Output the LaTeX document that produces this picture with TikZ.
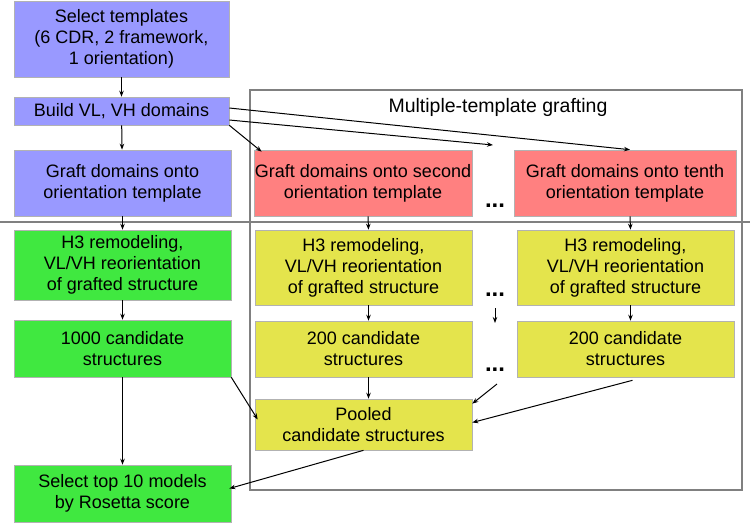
\documentclass[tikz,border=0pt]{standalone}
\usepackage{fontspec}
\setmainfont{Liberation Sans}
\usepackage{tikz}
\usetikzlibrary{arrows.meta}
\tikzset{>={Stealth[length=6pt,width=4.5pt]}}
\usepackage{xcolor}

\definecolor{boxblue}{RGB}{153,153,255}
\definecolor{boxred}{RGB}{255,128,128}
\definecolor{boxgreen}{RGB}{64,232,64}
\definecolor{boxyellow}{RGB}{228,228,76}
\definecolor{framegray}{RGB}{128,128,128}

\tikzset{
    blk/.style={draw=black!30, line width=0.6pt, align=center, inner sep=0pt,
        font=\fontsize{18}{21}\selectfont},
    bluebox/.style={blk, fill=boxblue},
    redbox/.style={blk, fill=boxred},
    greenbox/.style={blk, fill=boxgreen},
    yellowbox/.style={blk, fill=boxyellow},
    dotsnode/.style={inner sep=0pt, font=\fontsize{24}{24}\selectfont\bfseries},
    arr/.style={->, line width=1pt},
}

\begin{document}
\begin{tikzpicture}[x=1pt,y=-1pt]
    \useasboundingbox (0,0) rectangle (750,523);

    % frame and divider
    \draw[framegray, line width=2.4pt] (250,90) rectangle (742,490);
    \draw[framegray, line width=2pt] (0,222) -- (750,222);
    \node[font=\fontsize{19.5}{22}\selectfont] (title) at (498,107) {Multiple-template grafting};

    % left column
    \node[bluebox, minimum width=215, minimum height=76] (sel) at (121.5,39) {Select templates\\(6 CDR, 2 framework,\\1 orientation)};
    \node[bluebox, minimum width=215, minimum height=28] (build) at (121.5,111) {Build VL, VH domains};
    \node[bluebox, minimum width=217, minimum height=66] (graft) at (122.5,183) {Graft domains onto\\orientation template};
    \node[greenbox, minimum width=217, minimum height=70] (hthree) at (122.5,265) {H3 remodeling,\\VL/VH reorientation\\of grafted structure};
    \node[greenbox, minimum width=217, minimum height=57] (cand) at (122.5,348.5) {1000 candidate\\structures};
    \node[greenbox, minimum width=217, minimum height=57] (top) at (122.5,493.5) {Select top 10 models\\by Rosetta score};

    % second template
    \node[redbox, minimum width=218, minimum height=66] (graftA) at (363,183) {Graft domains onto second\\orientation template};
    \node[yellowbox, minimum width=217, minimum height=75] (hthreeA) at (363.5,267.5) {H3 remodeling,\\VL/VH reorientation\\of grafted structure};
    \node[yellowbox, minimum width=217, minimum height=56] (candA) at (363.5,349) {200 candidate\\structures};
    \node[yellowbox, minimum width=217, minimum height=51] (pool) at (363.5,424.5) {Pooled\\candidate structures};

    % tenth template
    \node[redbox, minimum width=222, minimum height=66] (graftB) at (625,183) {Graft domains onto tenth\\orientation template};
    \node[yellowbox, minimum width=217, minimum height=75] (hthreeB) at (625.5,267.5) {H3 remodeling,\\VL/VH reorientation\\of grafted structure};
    \node[yellowbox, minimum width=217, minimum height=56] (candB) at (625.5,349) {200 candidate\\structures};

    % dots
    \node[dotsnode] (dotsA) at (495,206) {...};
    \node[dotsnode] (dotsB) at (495,295) {...};
    \node[dotsnode] (dotsC) at (495,370) {...};
    \coordinate (dtop) at (493,145);
    \coordinate (dmidA) at (495,308);
    \coordinate (dmidB) at (495,323);
    \coordinate (dlow) at (497,384);

    % arrows
    \draw[arr] (sel) -- (build);
    \draw[arr] (build) -- (graft);
    \draw[arr] (graft) -- (hthree);
    \draw[arr] (hthree) -- (cand);
    \draw[arr] (cand) -- (top);
    \draw[arr] ([yshift=3pt]build.east) -- ([xshift=5pt]graftB.north);
    \draw[arr] ([yshift=-9pt]build.east) -- (dtop);
    \draw[arr] (build.south east) -- ([xshift=8pt,yshift=-2pt]graftA.north west);
    \draw[arr] ([xshift=5pt]graftA.south) -- ([xshift=5pt]hthreeA.north);
    \draw[arr] ([xshift=5pt]graftB.south) -- ([xshift=5pt]hthreeB.north);
    \draw[arr] ([xshift=5pt]hthreeA.south) -- ([xshift=5pt]candA.north);
    \draw[arr] ([xshift=5pt]hthreeB.south) -- ([xshift=5pt]candB.north);
    \draw[arr] (dmidA) -- (dmidB);
    \draw[arr] ([xshift=5pt]candA.south) -- ([xshift=5pt]pool.north);
    \draw[arr] (dlow) -- ([yshift=-5pt]pool.north east);
    \draw[arr] ([xshift=7pt,yshift=-3pt]candB.south) -- ([yshift=2pt]pool.east);
    \draw[arr] (cand.south east) -- ([xshift=3pt,yshift=5pt]pool.west);
    \draw[arr] (pool.south) -- ([yshift=5pt,xshift=-2pt]top.east);
\end{tikzpicture}
\end{document}
